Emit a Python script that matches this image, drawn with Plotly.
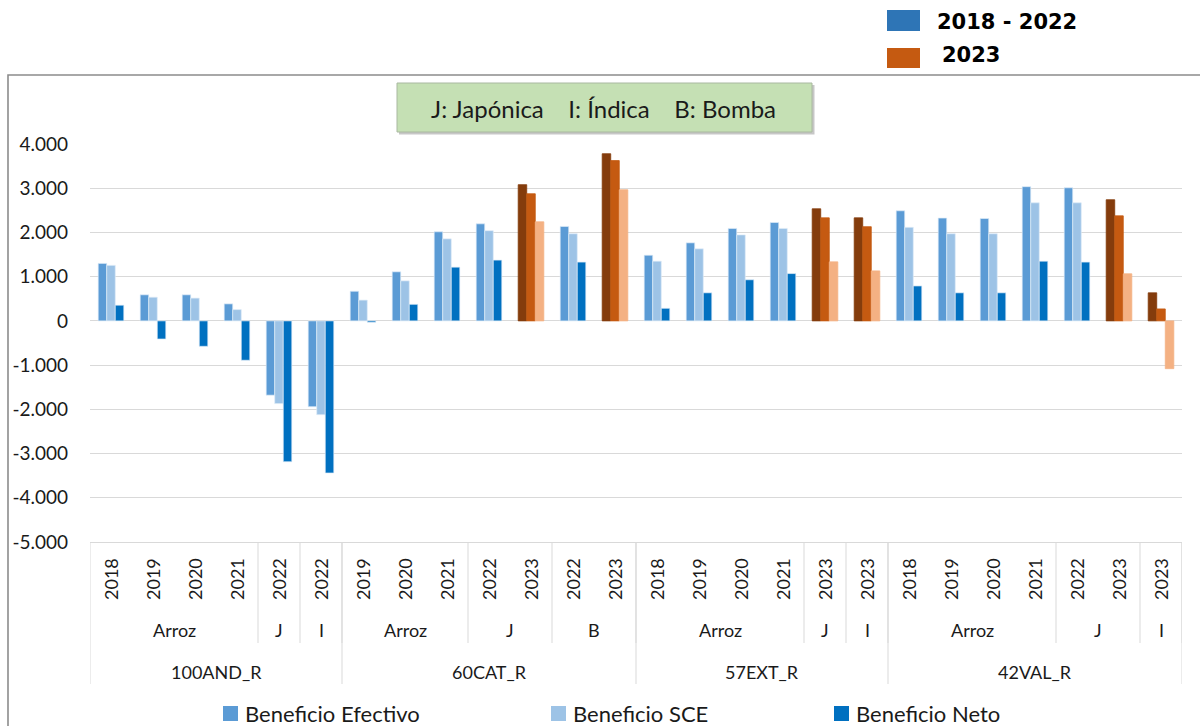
import plotly.graph_objects as go

# ---- data -------------------------------------------------------------
regions = ["100AND_R"] * 6 + ["60CAT_R"] * 7 + ["57EXT_R"] * 6 + ["42VAL_R"] * 7
varieties = (["Arroz"] * 4 + ["J", "I"]
             + ["Arroz"] * 3 + ["J", "J", "B", "B"]
             + ["Arroz"] * 4 + ["J", "I"]
             + ["Arroz"] * 4 + ["J", "J", "I"])
years = [2018, 2019, 2020, 2021, 2022, 2022,
         2019, 2020, 2021, 2022, 2023, 2022, 2023,
         2018, 2019, 2020, 2021, 2023, 2023,
         2018, 2019, 2020, 2021, 2022, 2023, 2023]

beneficio_efectivo = [1300, 590, 590, 385, -1680, -1940,
                      670, 1110, 2015, 2195, 3080, 2135, 3780,
                      1485, 1765, 2090, 2225, 2535, 2330,
                      2490, 2325, 2315, 3035, 3010, 2740, 635]
beneficio_sce = [1255, 535, 515, 255, -1870, -2120,
                 470, 905, 1855, 2040, 2875, 1970, 3625,
                 1350, 1630, 1945, 2090, 2330, 2130,
                 2115, 1970, 1970, 2670, 2670, 2375, 270]
beneficio_neto = [355, -410, -575, -890, -3185, -3440,
                  -30, 375, 1215, 1375, 2240, 1330, 2965,
                  285, 635, 930, 1070, 1335, 1130,
                  790, 635, 635, 1350, 1330, 1065, -1080]

y_ticks = [4000, 3000, 2000, 1000, 0, -1000, -2000, -3000, -4000, -5000]

series = [
    ("Beneficio Efectivo", beneficio_efectivo, "#5B9BD5", "#843C0C"),
    ("Beneficio SCE", beneficio_sce, "#9DC3E6", "#C55A11"),
    ("Beneficio Neto", beneficio_neto, "#0070C0", "#F4B183"),
]

# ---- geometry helpers (page pixels -> paper coordinates) ---------------
W, H = 1200, 726
ML, MR, MT, MB = 90, 18, 144, 184
PW, PH = W - ML - MR, H - MT - MB


def px(x):
    return (x - ML) / PW


def py(y):
    return (H - MB - y) / PH


FONT = "Lato, Calibri, sans-serif"
TXT = "#1a1a1a"
GRID = "#D9D9D9"

n = len(years)
xs = list(range(n))

fig = go.Figure()
for name, vals, base_col, col_2023 in series:
    colors = [col_2023 if yr == 2023 else base_col for yr in years]
    edges = [col_2023 if yr == 2023 else "rgba(222,235,247,0.85)" for yr in years]
    fig.add_trace(go.Bar(
        x=xs, y=vals, name=name,
        marker=dict(color=colors, line=dict(color=edges, width=0.8)),
        showlegend=False,
    ))


def fmt(v):
    s = f"{abs(v):,}".replace(",", ".")
    return ("-" if v < 0 else "") + s


shapes = []
annotations = []


def label(x, y, text, size, xref="paper", angle=0, xanchor="center",
          family=FONT, color=TXT):
    annotations.append(dict(x=x, y=y, xref=xref, yref="paper", text=text,
                            textangle=angle, showarrow=False,
                            xanchor=xanchor, yanchor="middle",
                            font=dict(family=family, size=size, color=color)))


# outer chart frame
shapes.append(dict(type="rect", xref="paper", yref="paper",
                   x0=px(8), x1=px(1240), y0=py(760), y1=py(75),
                   line=dict(color="#8C8C8C", width=1.6), fillcolor="rgba(0,0,0,0)",
                   layer="below"))

# multi-level category axis: labels and separators
for i, yr in enumerate(years):
    label(i, py(579), str(yr), 18, xref="x", angle=-90)


def spans(keys):
    out = []
    start = 0
    for i in range(1, len(keys) + 1):
        if i == len(keys) or keys[i] != keys[start]:
            out.append((start, i - 1))
            start = i
    return out


sub_keys = list(zip(regions, varieties))
for a, b in spans(sub_keys):
    label((a + b) / 2, py(630), varieties[a], 18, xref="x")
    shapes.append(dict(type="line", xref="x", yref="paper",
                       x0=b + 0.5, x1=b + 0.5, y0=py(542), y1=py(643),
                       line=dict(color=GRID, width=1)))

for a, b in spans(regions):
    label((a + b) / 2, py(672), regions[a], 18, xref="x")
    shapes.append(dict(type="line", xref="x", yref="paper",
                       x0=b + 0.5, x1=b + 0.5, y0=py(542), y1=py(684),
                       line=dict(color=GRID, width=1)))
shapes.append(dict(type="line", xref="x", yref="paper",
                   x0=-0.5, x1=-0.5, y0=py(542), y1=py(684),
                   line=dict(color=GRID, width=1)))

# variety key box
shapes.append(dict(type="rect", xref="paper", yref="paper",
                   x0=px(399), x1=px(814.5), y0=py(134.5), y1=py(85),
                   line=dict(width=0), fillcolor="rgba(0,0,0,0.22)"))
shapes.append(dict(type="rect", xref="paper", yref="paper",
                   x0=px(397), x1=px(812), y0=py(132), y1=py(83),
                   line=dict(color="#A9B8A0", width=1), fillcolor="#C5E0B4"))
nb = "\u00a0"
label(px(603.5), py(108), f"J: Japónica{nb*4}I: Índica{nb*4}B: Bomba", 24)

# period key (top right)
for (y0, y1, ty, col, text, tx) in [
    (10, 31, 22, "#2E75B6", "2018 - 2022", 935),
    (48, 68, 55, "#C55A11", "2023", 940),
]:
    shapes.append(dict(type="rect", xref="paper", yref="paper",
                       x0=px(887), x1=px(920), y0=py(y1), y1=py(y0),
                       line=dict(width=0), fillcolor=col))
    label(px(tx), py(ty), f"<b>{text}</b>", 21, xanchor="left",
          family="DejaVu Sans", color="#000000")

# series key (bottom)
for (name, _, col, _), sx in zip(series, [223, 551, 834]):
    shapes.append(dict(type="rect", xref="paper", yref="paper",
                       x0=px(sx), x1=px(sx + 15), y0=py(721), y1=py(706),
                       line=dict(width=0), fillcolor=col))
    label(px(sx + 20), py(713), name, 22, xanchor="left")

fig.update_layout(
    width=W, height=H,
    margin=dict(l=ML, r=MR, t=MT, b=MB, pad=0),
    paper_bgcolor="white", plot_bgcolor="white",
    barmode="group", bargap=0.39, bargroupgap=0,
    shapes=shapes, annotations=annotations,
    showlegend=False,
)
fig.update_xaxes(range=[-0.5, n - 0.5], showticklabels=False, showgrid=False,
                 zeroline=False, showline=True, linecolor=GRID, linewidth=1,
                 ticks="")
fig.update_yaxes(range=[-5000, 4000], tickvals=y_ticks,
                 ticktext=[fmt(v) for v in y_ticks],
                 showgrid=True, gridcolor=GRID, gridwidth=1, zeroline=False,
                 showline=False, ticks="", ticklabelstandoff=21,
                 tickfont=dict(family=FONT, size=19, color=TXT))

fig.write_html("out.html")
